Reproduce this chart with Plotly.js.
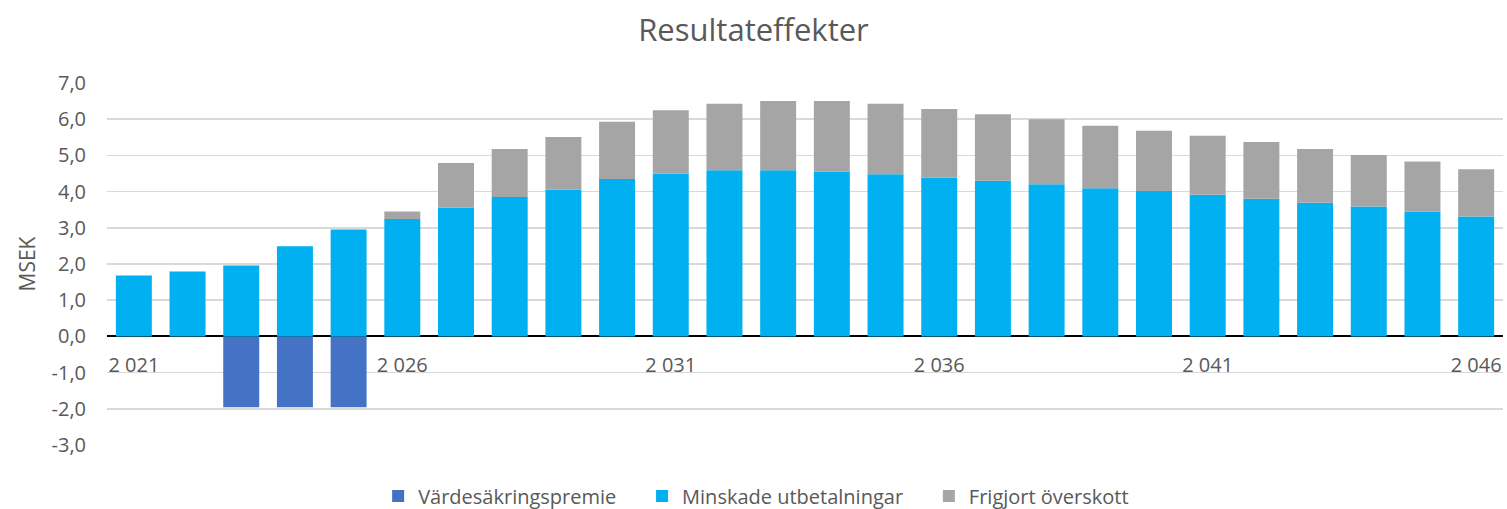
<!DOCTYPE html>
<html>
<head>
<meta charset="utf-8">
<script src="https://cdn.plot.ly/plotly-3.0.1.min.js"></script>
<style>html,body{margin:0;padding:0;background:#fff;}#chart{width:1507px;height:509px;}</style>
</head>
<body>
<div id="chart"></div>
<script>
const years = [2021,2022,2023,2024,2025,2026,2027,2028,2029,2030,2031,2032,2033,2034,2035,2036,2037,2038,2039,2040,2041,2042,2043,2044,2045,2046];
const vardesakringspremie = [0,0,-1.96,-1.96,-1.96,0,0,0,0,0,0,0,0,0,0,0,0,0,0,0,0,0,0,0,0,0];
const minskadeUtbetalningar = [1.68,1.79,1.96,2.49,2.95,3.24,3.56,3.85,4.06,4.35,4.49,4.59,4.59,4.55,4.48,4.38,4.30,4.20,4.09,4.02,3.91,3.80,3.69,3.59,3.45,3.31];
const frigjortOverskott = [0,0,0,0,0,0.21,1.23,1.33,1.45,1.58,1.76,1.84,1.91,1.95,1.95,1.90,1.84,1.80,1.73,1.66,1.63,1.57,1.49,1.42,1.38,1.31];
const seriesNames = ['Värdesäkringspremie','Minskade utbetalningar','Frigjort överskott'];
const xTickVals = [2021,2026,2031,2036,2041,2046];
const xTickText = ["2 021","2 026","2 031","2 036","2 041","2 046"];
const yTickVals = [-3,-2,-1,0,1,2,3,4,5,6,7];
const yTickText = ["-3,0","-2,0","-1,0","0,0","1,0","2,0","3,0","4,0","5,0","6,0","7,0"];

const fontFam = "'Open Sans', Lato, 'Liberation Sans', sans-serif";
const textCol = "#595959";
const pad = '\u00a0\u00a0\u00a0\u00a0';

const traces = [
  {type:'bar', name:seriesNames[0] + pad, x:years, y:vardesakringspremie, marker:{color:'#4472C4'}},
  {type:'bar', name:seriesNames[1] + pad, x:years, y:minskadeUtbetalningar, marker:{color:'#00B0F0'}},
  {type:'bar', name:seriesNames[2], x:years, y:frigjortOverskott, marker:{color:'#A5A5A5'}}
];

const layout = {
  width:1507, height:509,
  margin:{l:107, r:4, t:83, b:64, autoexpand:false},
  paper_bgcolor:'#fff', plot_bgcolor:'#fff',
  barmode:'relative', bargap:0.33,
  font:{family:fontFam, color:textCol, size:20},
  title:{text:'Resultateffekter', x:0.5, xanchor:'center', y:0.941, yanchor:'middle', font:{family:fontFam, size:31, color:textCol}},
  xaxis:{range:[2020.5,2046.5], tickvals:xTickVals, ticktext:xTickText, showgrid:false, zeroline:false, showline:false,
         anchor:'free', position:0.3, ticks:'', ticklabelstandoff:15, tickfont:{size:20, color:textCol}, fixedrange:true},
  yaxis:{range:[-3,7], tickvals:yTickVals, ticktext:yTickText, showgrid:true, gridcolor:'#D9D9D9', gridwidth:1.5,
         zeroline:true, zerolinecolor:'#000', zerolinewidth:2, showline:false, ticks:'', ticklabelstandoff:20, tickfont:{size:20, color:textCol},
         title:{text:'MSEK', standoff:10, font:{size:21, color:textCol}}},
  legend:{orientation:'h', x:0.465, xanchor:'center', y:-0.141, yanchor:'middle', font:{size:20, color:textCol}, traceorder:'normal', itemwidth:30},
  showlegend:true
};

Plotly.newPlot('chart', traces, layout, {displayModeBar:false, staticPlot:true});
</script>
</body>
</html>
